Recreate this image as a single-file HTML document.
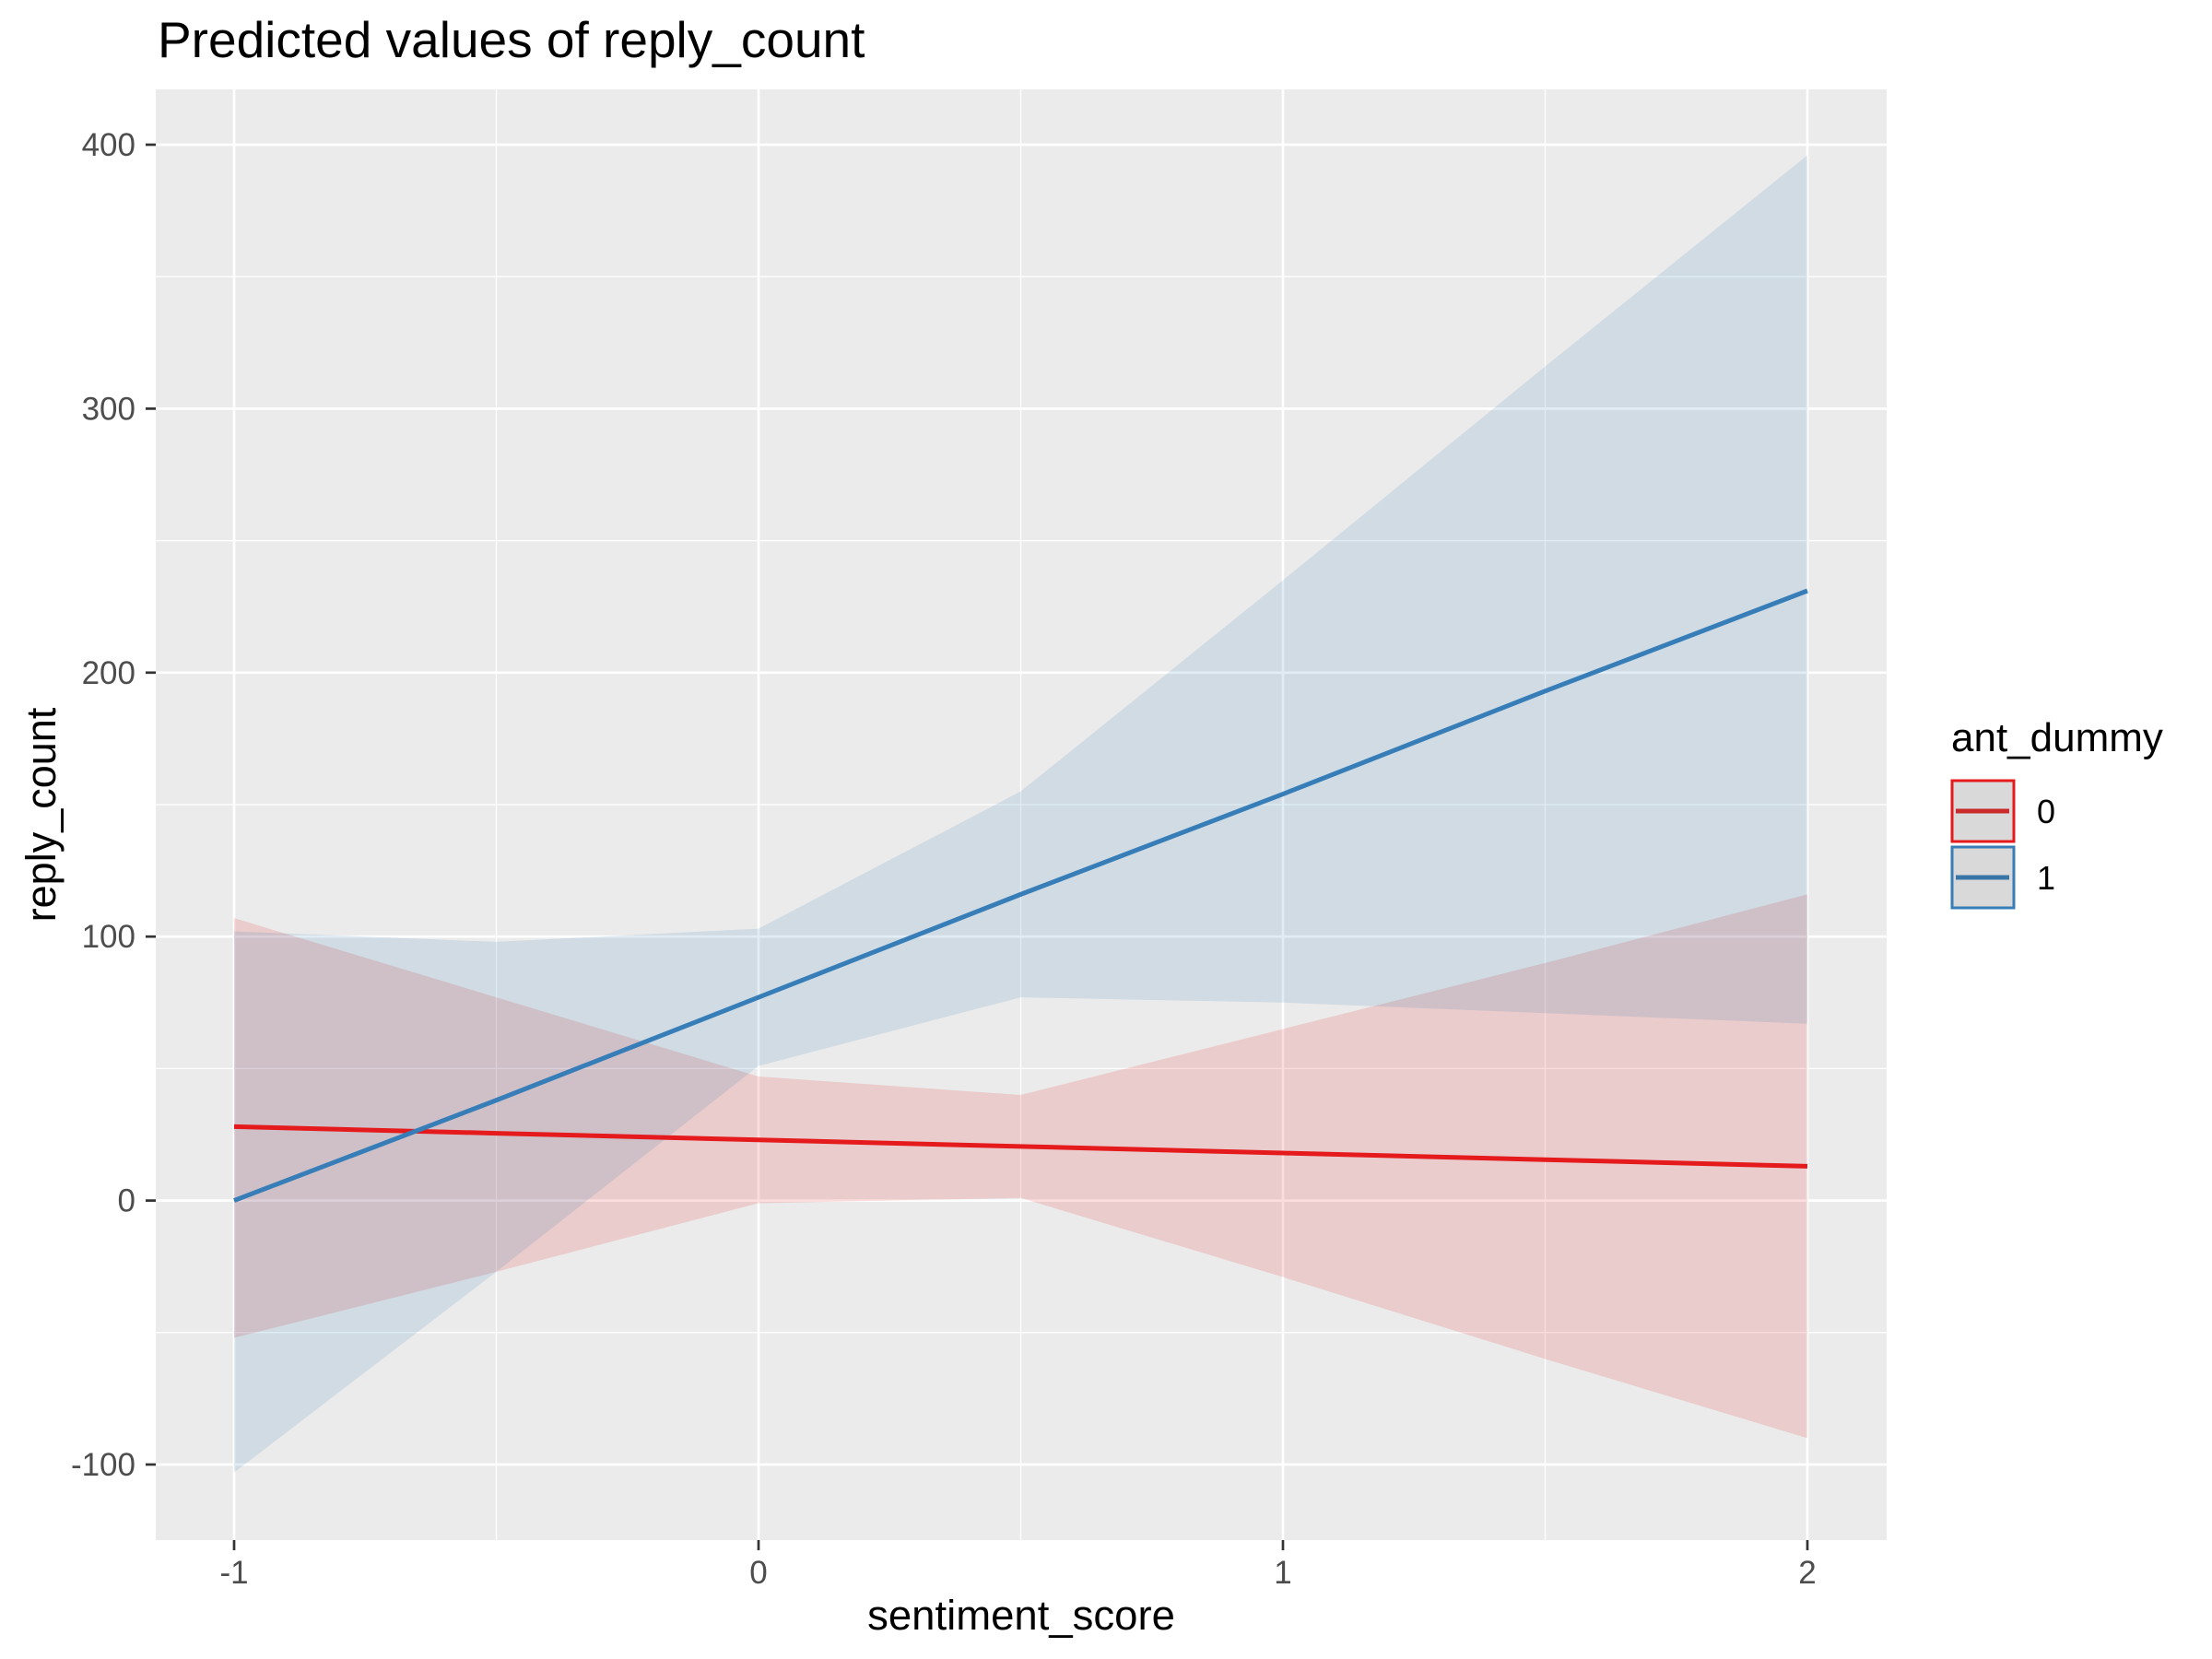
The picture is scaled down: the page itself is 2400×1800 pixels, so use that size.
<!DOCTYPE html>
<html><head><meta charset="utf-8"><style>
html,body{margin:0;padding:0;background:#fff}
svg{display:block;font-family:"Liberation Sans",Arial,sans-serif}
</style></head><body>
<svg id="chart" width="2400" height="1800" viewBox="0 0 2400 1800" xmlns="http://www.w3.org/2000/svg">
<rect width="2400" height="1800" fill="#fff"/>
<text x="171" y="62" font-size="55" fill="#000">Predicted values of reply_count</text>
<rect x="169" y="97" width="1878" height="1574" fill="#ebebeb"/>
<g id="grid"></g>
<g id="ribbons"></g>
<g id="lines"></g>
<g id="axes"></g>
<text x="1108" y="1768" font-size="45.5" text-anchor="middle" fill="#000">sentiment_score</text>
<text transform="translate(60,884) rotate(-90)" font-size="45" text-anchor="middle" fill="#000">reply_count</text>
<g>
<text x="2117" y="815" font-size="44" fill="#000">ant_dummy</text>
<g>
<rect x="2118" y="847" width="67" height="66" fill="#d9d9d9" stroke="#e41a1c" stroke-width="3"/>
<line x1="2122" y1="880" x2="2180" y2="880" stroke="#c92a2a" stroke-width="5"/>
<text x="2210" y="893" font-size="36" fill="#000">0</text>
</g>
<g>
<rect x="2118" y="919" width="67" height="66" fill="#d9d9d9" stroke="#377eb8" stroke-width="3"/>
<line x1="2122" y1="952" x2="2180" y2="952" stroke="#3a75a8" stroke-width="5"/>
<text x="2210" y="965" font-size="36" fill="#000">1</text>
</g>
</g>
</svg>
<script>
const xs = [-1, -0.5, 0, 0.5, 1, 1.5, 2];
const red_fit = [28, 25.5, 23, 20.5, 18, 15.5, 13];
const red_hi = [107, 77, 47, 40, 65, 90, 116];
const red_lo = [-52, -27, -1, 1, -29, -60, -90];
const blue_fit = [0, 38, 77, 116, 154, 193, 231];
const blue_hi = [102, 98, 103, 155, 235, 316, 396];
const blue_lo = [-103, -27, 51, 77, 75, 71, 67];
const xTicks = [-1, 0, 1, 2];
const xMinor = [-0.5, 0.5, 1.5];
const yTicks = [-100, 0, 100, 200, 300, 400];
const yMinor = [-50, 50, 150, 250, 350];

const NS = "http://www.w3.org/2000/svg";
const X = v => 254 + (v + 1) * 569;
const Y = v => 1589 - (v + 100) * 2.864;
const PL = 169, PR = 2047, PT = 97, PB = 1671;
function mk(tag, attrs, parent) {
  const e = document.createElementNS(NS, tag);
  for (const k in attrs) e.setAttribute(k, attrs[k]);
  parent.appendChild(e);
  return e;
}
const grid = document.getElementById('grid');
yMinor.forEach(v => {
  const l = mk('line', {x1: PL, x2: PR, y1: Y(v), y2: Y(v), stroke: '#fff', 'stroke-width': 1.3}, grid);
  
  
});
xMinor.forEach(v => {
  const l = mk('line', {x1: X(v), x2: X(v), y1: PT, y2: PB, stroke: '#fff', 'stroke-width': 1.3}, grid);
  
  
});
yTicks.forEach(v => {
  const l = mk('line', {x1: PL, x2: PR, y1: Y(v), y2: Y(v), stroke: '#fff', 'stroke-width': 2.7}, grid);
  
  
});
xTicks.forEach(v => {
  const l = mk('line', {x1: X(v), x2: X(v), y1: PT, y2: PB, stroke: '#fff', 'stroke-width': 2.7}, grid);
  
  
});
function ribbon(hi, lo, color, name) {
  let pts = xs.map((x, i) => X(x) + ',' + Y(hi[i]));
  for (let i = xs.length - 1; i >= 0; i--) pts.push(X(xs[i]) + ',' + Y(lo[i]));
  const p = mk('polygon', {points: pts.join(' '), fill: color, 'fill-opacity': 0.15}, document.getElementById('ribbons'));
  
  
}
ribbon(red_hi, red_lo, '#e41a1c', 'ribbon-ant-0');
ribbon(blue_hi, blue_lo, '#377eb8', 'ribbon-ant-1');
function line(vals, color, name) {
  const pts = xs.map((x, i) => X(x) + ',' + Y(vals[i])).join(' ');
  const p = mk('polyline', {points: pts, fill: 'none', stroke: color, 'stroke-width': 5}, document.getElementById('lines'));
  
  
}
line(red_fit, '#e41a1c', 'line-ant-0');
line(blue_fit, '#377eb8', 'line-ant-1');
const axes = document.getElementById('axes');
yTicks.forEach(v => {
  mk('line', {x1: 158, x2: PL, y1: Y(v), y2: Y(v), stroke: '#333', 'stroke-width': 2.7}, axes);
  const t = mk('text', {x: 147, y: Y(v) + 12, 'font-size': 35, 'text-anchor': 'end', fill: '#4d4d4d'}, axes);
  t.textContent = v;
  
  
});
xTicks.forEach(v => {
  mk('line', {x1: X(v), x2: X(v), y1: PB, y2: PB + 11, stroke: '#333', 'stroke-width': 2.7}, axes);
  const t = mk('text', {x: X(v), y: 1718, 'font-size': 35, 'text-anchor': 'middle', fill: '#4d4d4d'}, axes);
  t.textContent = v;
  
  
});
</script>
</body></html>
